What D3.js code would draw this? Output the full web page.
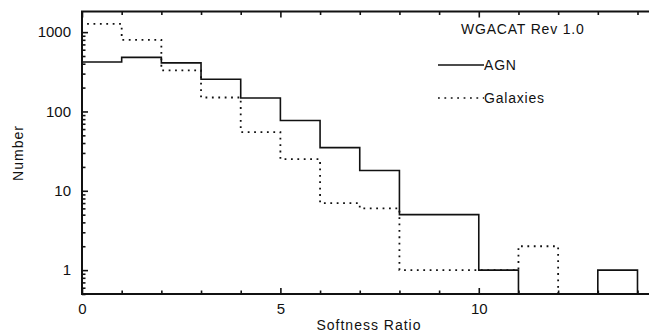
<!DOCTYPE html>
<html>
<head>
<meta charset="utf-8">
<script src="https://cdn.jsdelivr.net/npm/d3@7"></script>
<style>
  body { margin: 0; background: #fff; }
  svg text { font-family: "Liberation Sans", Arial, sans-serif; fill: #111; }
</style>
</head>
<body>
<div id="chart"></div>
<script>
// histogram bins (softness ratio, width 1)
const binStarts = [0, 1, 2, 3, 4, 5, 6, 7, 8, 9, 10, 11, 12, 13];
const agnCounts = [420, 480, 410, 255, 148, 77, 35, 18, 5, 5, 1, 0, 0, 1];
const galaxyCounts = [1270, 800, 330, 150, 55, 25, 7, 6, 1, 1, 1, 2, 0, 0];
const xMajorTicks = [0, 5, 10];
const yMajorTicks = [1, 10, 100, 1000];
const legendLabels = ["AGN", "Galaxies"];
const legendTitle = "WGACAT Rev 1.0";

const width = 649, height = 335;
const margin = {top: 11.5, right: 0, bottom: 41, left: 82};

const svg = d3.select("#chart")
  .append("svg")
    .attr("width", width)
    .attr("height", height);

const x = d3.scaleLinear()
  .domain([0, 14.29])
  .range([margin.left, width - margin.right]);

const y = d3.scaleLog()
  .domain([0.5, 1820])
  .range([height - margin.bottom, margin.top]);

const yv = v => v > 0 ? y(v) : y.range()[0];

// build step points from bins
function stepPoints(counts) {
  const pts = [[x(binStarts[0]), y.range()[0]]];
  binStarts.forEach((b, i) => {
    pts.push([x(b), yv(counts[i])]);
    pts.push([x(b + 1), yv(counts[i])]);
  });
  pts.push([x(binStarts[binStarts.length - 1] + 1), y.range()[0]]);
  return pts;
}

const line = d3.line();

svg.append("path")
  .attr("d", line(stepPoints(galaxyCounts)))
  .attr("fill", "none")
  .attr("stroke", "#111")
  .attr("stroke-width", 1.8)
  .attr("stroke-dasharray", "1.8,4.6");

svg.append("path")
  .attr("d", line(stepPoints(agnCounts)))
  .attr("fill", "none")
  .attr("stroke", "#111")
  .attr("stroke-width", 1.6);

// frame (no right side, it is cut off)
const x0 = margin.left, x1 = width, yb = y.range()[0], yt = margin.top;
svg.append("path")
  .attr("d", `M${x1},${yt}H${x0}V${yb}H${x1}`)
  .attr("fill", "none")
  .attr("stroke", "#111")
  .attr("stroke-width", 2);

// x axis ticks, bottom and top, pointing inward
const xMinor = d3.range(0, 15).filter(d => !xMajorTicks.includes(d));
svg.append("g")
  .attr("transform", `translate(0,${yb})`)
  .call(d3.axisBottom(x).tickValues(xMajorTicks).tickSize(-6).tickPadding(9).tickFormat(d3.format("d")))
  .call(g => g.select(".domain").remove())
  .call(g => g.selectAll("text").attr("font-size", 15));
svg.append("g")
  .attr("transform", `translate(0,${yb})`)
  .call(d3.axisBottom(x).tickValues(xMinor).tickSize(-3.5).tickFormat(""))
  .call(g => g.select(".domain").remove());
svg.append("g")
  .attr("transform", `translate(0,${yt})`)
  .call(d3.axisTop(x).tickValues(xMajorTicks).tickSize(-6).tickFormat(""))
  .call(g => g.select(".domain").remove());
svg.append("g")
  .attr("transform", `translate(0,${yt})`)
  .call(d3.axisTop(x).tickValues(xMinor).tickSize(-3.5).tickFormat(""))
  .call(g => g.select(".domain").remove());

// y axis ticks
const yMinor = [];
[0.1, 1, 10, 100, 1000].forEach(dec => {
  for (let k = 2; k <= 9; k++) {
    const v = dec * k;
    if (v >= y.domain()[0] && v <= y.domain()[1]) yMinor.push(v);
  }
});
svg.append("g")
  .attr("transform", `translate(${x0},0)`)
  .call(d3.axisLeft(y).tickValues(yMajorTicks).tickSize(-6).tickPadding(11).tickFormat(d3.format("d")))
  .call(g => g.select(".domain").remove())
  .call(g => g.selectAll("text").attr("font-size", 15));
svg.append("g")
  .attr("transform", `translate(${x0},0)`)
  .call(d3.axisLeft(y).tickValues(yMinor).tickSize(-3.5).tickFormat(""))
  .call(g => g.select(".domain").remove());

svg.selectAll(".tick line").attr("stroke", "#111").attr("stroke-width", 1.6);

// axis titles
svg.append("text")
  .attr("x", 369)
  .attr("y", 330)
  .attr("text-anchor", "middle")
  .attr("font-size", 14)
  .attr("letter-spacing", 1)
  .text("Softness Ratio");

svg.append("text")
  .attr("transform", "translate(23,153) rotate(-90)")
  .attr("text-anchor", "middle")
  .attr("font-size", 14)
  .attr("letter-spacing", 1)
  .text("Number");

// legend
svg.append("text")
  .attr("x", 461)
  .attr("y", 34)
  .attr("font-size", 14)
  .attr("letter-spacing", 0.8)
  .text(legendTitle);

const legendRows = [
  {label: legendLabels[0], y: 65, dash: null},
  {label: legendLabels[1], y: 98, dash: "1.8,4.6"}
];
legendRows.forEach(r => {
  svg.append("line")
    .attr("x1", 438).attr("x2", 484)
    .attr("y1", r.y).attr("y2", r.y)
    .attr("stroke", "#111")
    .attr("stroke-width", 1.6)
    .attr("stroke-dasharray", r.dash);
  svg.append("text")
    .attr("x", 484)
    .attr("y", r.y + 5)
    .attr("font-size", 14)
    .attr("letter-spacing", 0.8)
    .text(r.label);
});
</script>
</body>
</html>
